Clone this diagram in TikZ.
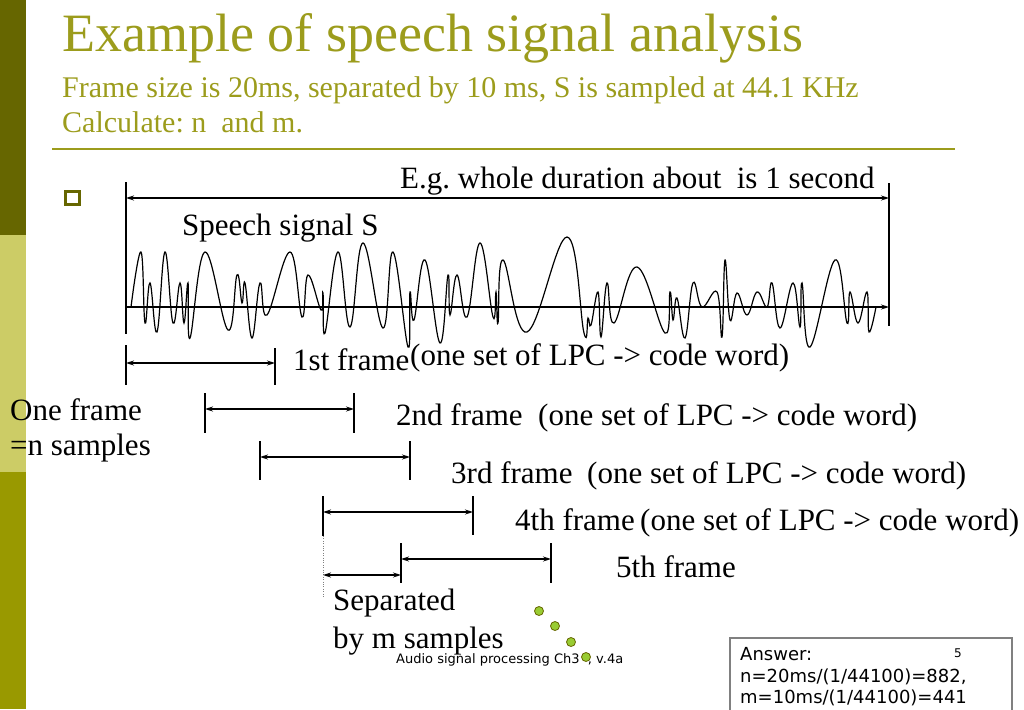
\documentclass[tikz,border=0pt]{standalone}
\usepackage{fontspec}
\setmainfont{Liberation Serif}
\newfontfamily\verdana{DejaVu Sans}
\usetikzlibrary{arrows.meta,calc,positioning}
\definecolor{olivedark}{HTML}{666600}
\definecolor{olivelight}{HTML}{CCCC66}
\definecolor{olivemid}{HTML}{999900}
\definecolor{titleolive}{HTML}{9C9C1C}
\definecolor{dotgreen}{HTML}{99CC33}

\begin{document}
\frenchspacing
\begin{tikzpicture}[x=1pt,y=-1pt,>={Stealth[length=8pt,width=5pt]},
  body/.style={font=\fontsize{31}{36}\selectfont,inner sep=0pt,anchor=base west},
  sub/.style={body,font=\fontsize{30}{34}\selectfont,text=titleolive},
  ans/.style={font=\verdana\fontsize{18}{21}\selectfont,inner sep=0pt,anchor=base west},
  tick/.style={line width=1.2pt},
  span/.style={<->,line width=1.2pt}]
  \useasboundingbox (0,0) rectangle (1024,709);
  % side bar
  \fill[olivedark] (0,0) rectangle (26,235);
  \fill[olivelight] (0,235) rectangle (26,472);
  \fill[olivemid] (0,472) rectangle (26,709);
  % heading
  \node[body,font=\fontsize{54}{60}\selectfont,text=titleolive] (title) at (62,52) {Example of speech signal analysis};
  \node[sub] (given) at (62,97) {Frame size is 20ms, separated by 10 ms, S is sampled at 44.1 KHz};
  \node[sub] (task) at (62,132) {Calculate: n~ and m.};
  \draw[titleolive,line width=2pt] (52,149) -- (955,149);
  \draw[olivedark,line width=3pt] (65.5,191.5) rectangle (79.5,204.5);
  % whole duration
  \coordinate (L) at (126,198);
  \coordinate (R) at (889,198);
  \draw[tick] (L) ++(0,-16) -- ++(0,152);
  \draw[tick] (R) ++(0,-15) -- ++(0,143);
  \draw[span] (L) -- (R);
  \node[body] (dur) at (400,188) {E.g. whole duration about~ is 1 second};
  \node[body] (sig) at (182,235) {Speech signal S};
  % signal
  \coordinate (O) at (126,307);
  \coordinate (X) at (889,307);
  \draw[->,line width=1.2pt] (O) -- (X);
  \draw[line width=1.2pt] plot[smooth,tension=0.7] coordinates {
    (131,307) (141,252) (145,323) (150,283) (157,332) (165,252) (173,323)
    (180,283) (184,323) (188,283) (190,338) (205,252) (228,330) (237,275)
    (242,303) (245,283) (252,338) (260,283) (267,315) (290,252) (302,317)
    (308,275) (321,310) (323,293) (325,333) (338,252) (350,327) (363,243)
    (383,328) (393,252) (408,347) (410,292) (414,320) (425,260) (440,343)
    (448,275) (450,315) (457,275) (467,317) (480,243) (493,317) (496,292)
    (498,323) (503,260) (527,332) (567,237) (584,333) (588,318) (591,325)
    (598,292) (601,337) (607,283) (614,323) (637,267) (665,333) (670,292)
    (673,320) (677,298) (685,338) (693,283) (702,307) (717,292) (722,337)
    (725,260) (730,320) (737,293) (747,315) (757,292) (767,307) (772,283)
    (780,328) (793,283) (800,327) (802,283) (810,347) (835,260) (847,323)
    (850,292) (858,323) (867,292) (869,332) (876,307)};
  % frames
  \coordinate (f1s) at (126,363);
  \coordinate (f1e) at (275,363);
  \draw[tick] (f1s) ++(0,-18) -- ++(0,40);
  \draw[tick] (f1e) ++(0,-15) -- ++(0,37);
  \draw[span] (f1s) -- (f1e);
  \node[body] (fr1) at (293,370) {1st frame};
  \node[body] (lpc1) at (410,365) {(one set of LPC -> code word)};
  \coordinate (f2s) at (205,409);
  \coordinate (f2e) at (354,409);
  \draw[tick] (f2s) ++(0,-16) -- ++(0,40);
  \draw[tick] (f2e) ++(0,-16) -- ++(0,40);
  \draw[span] (f2s) -- (f2e);
  \node[body] (fr2) at (396,425) {2nd frame};
  \node[body] (lpc2) at (538,425) {(one set of LPC -> code word)};
  \coordinate (f3s) at (260,457);
  \coordinate (f3e) at (410,457);
  \draw[tick] (f3s) ++(0,-16) -- ++(0,39);
  \draw[tick] (f3e) ++(0,-16) -- ++(0,39);
  \draw[span] (f3s) -- (f3e);
  \node[body] (fr3) at (451,483) {3rd frame};
  \node[body] (lpc3) at (587,483) {(one set of LPC -> code word)};
  \coordinate (f4s) at (323,512);
  \coordinate (f4e) at (473,512);
  \draw[tick] (f4s) ++(0,-16) -- ++(0,40);
  \draw[tick] (f4e) ++(0,-16) -- ++(0,39);
  \draw[span] (f4s) -- (f4e);
  \node[body] (fr4) at (515,530) {4th frame};
  \node[body] (lpc4) at (640,530) {(one set of LPC -> code word)};
  \coordinate (f5s) at (401,559);
  \coordinate (f5e) at (551,559);
  \draw[tick] (f5s) ++(0,-16) -- ++(0,40);
  \draw[tick] (f5e) ++(0,-16) -- ++(0,40);
  \draw[span] (f5s) -- (f5e);
  \node[body] (fr5) at (616,577) {5th frame};
  % shift between frames
  \coordinate (m1) at (323,575);
  \coordinate (m2) at (401,575);
  \draw[gray,dotted] (f4s) ++(0,24) -- ++(0,62);
  \draw[span] (m1) -- (m2);
  \node[body] (sep1) at (333,610) {Separated};
  \node[body] (sep2) at (333,648) {by m samples};
  \node[body] (one1) at (10,420) {One frame};
  \node[body] (one2) at (10,455) {=n samples};
  % footer
  \node[ans,font=\verdana\fontsize{13}{15}\selectfont] (foot) at (396,663) {Audio signal processing Ch3\phantom{0}, v.4a};
  \filldraw[fill=dotgreen,draw=olivedark,line width=0.8pt] (539,611) circle (4.5);
  \filldraw[fill=dotgreen,draw=olivedark,line width=0.8pt] (555,626) circle (4.5);
  \filldraw[fill=dotgreen,draw=olivedark,line width=0.8pt] (571,642) circle (4.5);
  \filldraw[fill=dotgreen,draw=olivedark,line width=0.8pt] (586,657) circle (4.5);
  % answer
  \draw[gray,line width=1.3pt] (730,638) rectangle (1012,720);
  \node[ans] (a1) at (740,660) {Answer:};
  \node[ans] (a2) at (740,682) {n=20ms/(1/44100)=882,};
  \node[ans] (a3) at (740,703) {m=10ms/(1/44100)=441};
  \node[ans,font=\verdana\fontsize{12}{14}\selectfont] (pg) at (954,657) {5};
\end{tikzpicture}
\end{document}
